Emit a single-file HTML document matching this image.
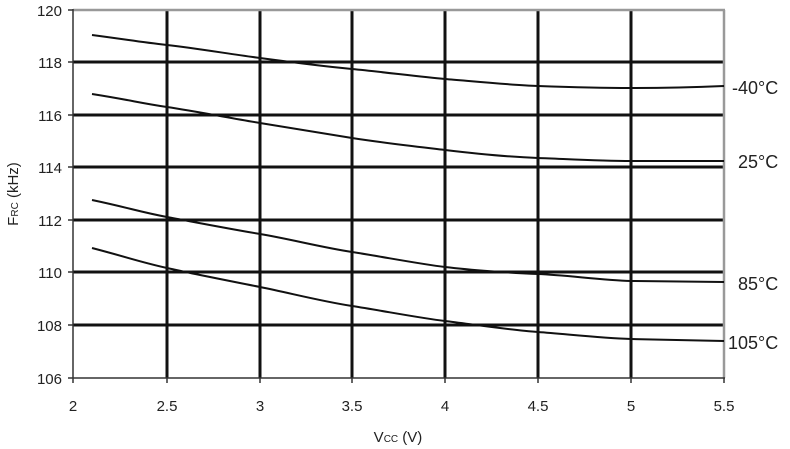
<!DOCTYPE html>
<html><head><style>body{margin:0;background:#fff}svg{display:block}text{font-family:"Liberation Sans",sans-serif;fill:#222}</style></head><body>
<svg width="790" height="449" viewBox="0 0 790 449">
<g stroke="#111" stroke-width="3">
<line x1="167" y1="10" x2="167" y2="378"/><line x1="260" y1="10" x2="260" y2="378"/><line x1="352" y1="10" x2="352" y2="378"/><line x1="445" y1="10" x2="445" y2="378"/><line x1="538" y1="10" x2="538" y2="378"/><line x1="631" y1="10" x2="631" y2="378"/>
<line x1="73" y1="62" x2="724" y2="62"/><line x1="73" y1="115" x2="724" y2="115"/><line x1="73" y1="167" x2="724" y2="167"/><line x1="73" y1="220" x2="724" y2="220"/><line x1="73" y1="272" x2="724" y2="272"/><line x1="73" y1="325" x2="724" y2="325"/>
</g>
<g stroke="#999" stroke-width="2.5"><line x1="73" y1="10" x2="725" y2="10"/><line x1="724" y1="10" x2="724" y2="378"/></g>
<g stroke="#333" stroke-width="1.5">
<line x1="73" y1="9" x2="73" y2="378"/><line x1="73" y1="378" x2="725" y2="378"/>
<line x1="68" y1="10" x2="73" y2="10"/><line x1="68" y1="62" x2="73" y2="62"/><line x1="68" y1="115" x2="73" y2="115"/><line x1="68" y1="167" x2="73" y2="167"/><line x1="68" y1="220" x2="73" y2="220"/><line x1="68" y1="272" x2="73" y2="272"/><line x1="68" y1="325" x2="73" y2="325"/><line x1="68" y1="378" x2="73" y2="378"/>
<line x1="73" y1="378" x2="73" y2="383"/><line x1="167" y1="378" x2="167" y2="383"/><line x1="260" y1="378" x2="260" y2="383"/><line x1="352" y1="378" x2="352" y2="383"/><line x1="445" y1="378" x2="445" y2="383"/><line x1="538" y1="378" x2="538" y2="383"/><line x1="631" y1="378" x2="631" y2="383"/><line x1="724" y1="378" x2="724" y2="383"/>
</g>
<g fill="none" stroke="#111" stroke-width="2">
<path d="M92,35 C130,40 140,42 167,45 S230,54 260,58 S320,66 352,69 S420,77 445,79 S510,85 538,86 S600,88 631,88 S700,87 724,86"/>
<path d="M92,94 C130,100 140,103 167,107 S230,118 260,123 S320,133 352,138 S420,147 445,150 S510,157 538,158 S600,161 631,161 L724,161"/>
<path d="M92,200 C130,208 140,212 167,217 S230,229 260,234 S320,247 352,252 S420,264 445,267 S510,273 538,274 S600,280 631,281 L724,282"/>
<path d="M92,248 C130,258 140,262 167,268 S230,281 260,287 S320,301 352,306 S420,318 445,321 S510,330 538,332 S600,338 631,339 L724,341"/>
</g>
<g font-size="15" text-anchor="end">
<text x="62" y="16">120</text><text x="62" y="68">118</text><text x="62" y="121">116</text><text x="62" y="173">114</text><text x="62" y="226">112</text><text x="62" y="278">110</text><text x="62" y="331">108</text><text x="62" y="384">106</text>
</g>
<g font-size="15" text-anchor="middle">
<text x="73" y="411">2</text><text x="167" y="411">2.5</text><text x="260" y="411">3</text><text x="352" y="411">3.5</text><text x="445" y="411">4</text><text x="538" y="411">4.5</text><text x="631" y="411">5</text><text x="724" y="411">5.5</text>
<text x="398" y="442">V<tspan font-size="10">CC</tspan> (V)</text>
</g>
<g font-size="18">
<text x="732" y="94">-40°C</text><text x="738" y="168">25°C</text><text x="738" y="290">85°C</text><text x="728" y="349">105°C</text>
</g>
<text font-size="15" transform="translate(18,194) rotate(-90)" text-anchor="middle">F<tspan font-size="10">RC</tspan> (kHz)</text>
</svg>
</body></html>
